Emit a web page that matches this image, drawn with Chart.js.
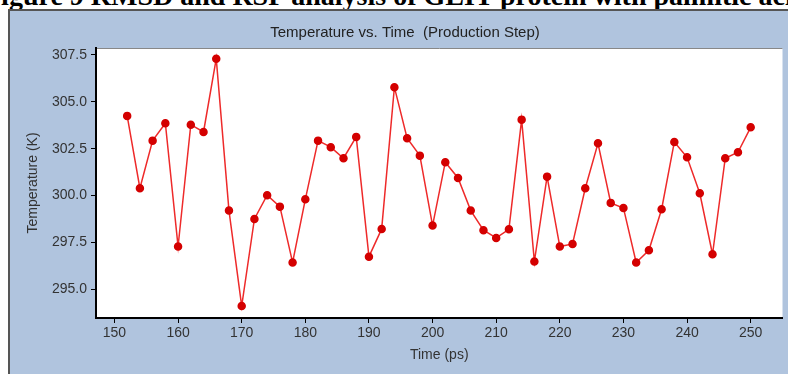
<!DOCTYPE html>
<html>
<head>
<meta charset="utf-8">
<script src="https://cdn.jsdelivr.net/npm/chart.js@4.4.0/dist/chart.umd.min.js"></script>
<style>
  html, body { margin: 0; padding: 0; background: #fff; overflow: hidden; }
  #caption {
    position: absolute; left: -16px; top: -18px; white-space: nowrap;
    font: bold 28px/28px "Liberation Serif", "Times New Roman", serif; color: #000;
  }
  #panel {
    position: absolute; left: 8px; top: 9px; width: 790px; height: 370px;
    background: #b0c4de; border-left: 2px solid #555; border-top: 2px solid #555;
  }
  #chart { position: absolute; left: 0; top: 0; }
</style>
</head>
<body>
<div id="caption">Figure 9 RMSD and RSF analysis of GLIT protein with palmitic acid</div>
<div id="panel"></div>
<canvas id="chart" width="788" height="374"></canvas>
<script>
const times = [152, 154, 156, 158, 160, 162, 164, 166, 168, 170,
    172, 174, 176, 178, 180, 182, 184, 186, 188, 190,
    192, 194, 196, 198, 200, 202, 204, 206, 208, 210,
    212, 214, 216, 218, 220, 222, 224, 226, 228, 230,
    232, 234, 236, 238, 240, 242, 244, 246, 248, 250];
const temps = [304.25, 300.39, 302.93, 303.86, 297.28, 303.78, 303.39, 307.30, 299.20, 294.11,
    298.75, 300.02, 299.41, 296.43, 299.80, 302.93, 302.58, 301.99, 303.13, 296.74,
    298.22, 305.78, 303.06, 302.13, 298.40, 301.78, 300.94, 299.20, 298.15, 297.74,
    298.20, 304.05, 296.48, 301.01, 297.28, 297.42, 300.39, 302.79, 299.61, 299.34,
    296.43, 297.08, 299.27, 302.86, 302.04, 300.12, 296.87, 301.99, 302.31, 303.64];
const xTicks = [150, 160, 170, 180, 190, 200, 210, 220, 230, 240, 250];
const yTicks = [295, 297.5, 300, 302.5, 305, 307.5];

const plotBg = {
    id: 'plotBg',
    beforeDraw(chart) {
        const { ctx, chartArea: a } = chart;
        ctx.save();
        ctx.fillStyle = '#fff';
        ctx.fillRect(a.left, a.top, a.right - a.left, a.bottom - a.top);
        ctx.strokeStyle = '#888';
        ctx.lineWidth = 1;
        ctx.beginPath();
        ctx.moveTo(a.left, a.top + 0.5);
        ctx.lineTo(a.right, a.top + 0.5);
        ctx.stroke();
        ctx.restore();
    }
};

const tickFont = { family: 'Arial, "Liberation Sans", sans-serif', size: 14 };

new Chart(document.getElementById('chart'), {
    type: 'line',
    data: {
        datasets: [{
            data: times.map((t, i) => ({ x: t, y: temps[i] })),
            borderColor: '#ee2a2a',
            borderWidth: 1.5,
            pointBackgroundColor: '#d40000',
            pointBorderColor: '#d40000',
            pointRadius: 3.5,
            tension: 0,
        }],
    },
    options: {
        responsive: false,
        devicePixelRatio: 1,
        animation: false,
        layout: { padding: { left: 22, right: 0, top: 0, bottom: 0 } },
        plugins: {
            legend: { display: false },
            tooltip: { enabled: false },
            title: {
                display: true,
                text: 'Temperature vs. Time  (Production Step)',
                color: '#222',
                font: { family: 'Arial, "Liberation Sans", sans-serif', size: 15, weight: 'normal' },
                padding: { top: 24, bottom: 6 },
            },
        },
        scales: {
            x: {
                type: 'linear',
                min: 147.1,
                max: 255,
                afterBuildTicks: s => { s.ticks = xTicks.map(v => ({ value: v })); },
                afterFit: s => { s.height = 56; },
                grid: { display: true, drawOnChartArea: false, drawTicks: true, tickLength: 5, color: '#000' },
                border: { color: '#000', width: 2 },
                ticks: { color: '#333', font: tickFont, padding: 2, maxRotation: 0 },
                title: { display: true, text: 'Time (ps)', color: '#333', font: tickFont, padding: { top: 0, bottom: 10 } },
            },
            y: {
                min: 293.47,
                max: 307.87,
                afterBuildTicks: s => { s.ticks = yTicks.map(v => ({ value: v })); },
                afterFit: s => { s.width = 74; },
                grid: { display: true, drawOnChartArea: false, drawTicks: true, tickLength: 5, color: '#000' },
                border: { color: '#000', width: 2 },
                ticks: { color: '#333', font: tickFont, padding: 4, callback: v => v.toFixed(1) },
                title: { display: true, text: 'Temperature (K)', color: '#333', font: tickFont, padding: { top: 3, bottom: 0 } },
            },
        },
    },
    plugins: [plotBg],
});
</script>
</body>
</html>
